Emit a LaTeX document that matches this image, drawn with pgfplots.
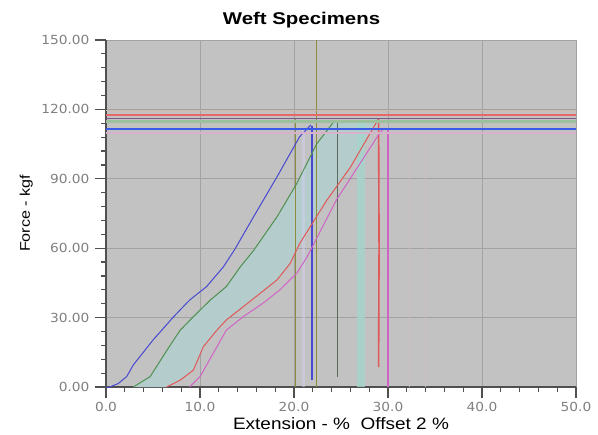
\documentclass[border=0pt]{standalone}
\usepackage{fontspec}
\setmainfont{Liberation Sans}
\newfontfamily\titlefont[FakeStretch=1.2]{Liberation Sans}
\newfontfamily\labfont[FakeStretch=1.15]{Liberation Sans}
\newfontfamily\tickfont[FakeStretch=1.1]{DejaVu Sans}
\usepackage{pgfplots}
\pgfplotsset{compat=1.18}
\definecolor{bggray}{HTML}{C2C2C2}
\definecolor{gridgray}{HTML}{A2A2A2}
\definecolor{axisgray}{HTML}{505050}
\definecolor{tickgray}{HTML}{808080}
\definecolor{cblue}{HTML}{4848D0}
\definecolor{cgreen}{HTML}{4E9050}
\definecolor{cred}{HTML}{E05858}
\definecolor{cpink}{HTML}{D064C4}
\definecolor{colive}{HTML}{8C8C3C}
\definecolor{cdark}{HTML}{5A6A5A}
\definecolor{ccyanfill}{HTML}{B4CCCC}
\definecolor{ccyanband}{HTML}{A6D4CC}
\definecolor{hgreen}{HTML}{9CC09C}
\definecolor{hred}{HTML}{E86868}
\definecolor{hpurple}{HTML}{7A5A8A}
\definecolor{hblue}{HTML}{3A5AE8}
\definecolor{horange}{HTML}{D2B8A8}
\definecolor{hpink}{HTML}{D8B2CC}
\definecolor{vpink}{HTML}{CDB8C6}
\begin{document}
\begin{tikzpicture}
\begin{axis}[name=ax, scale only axis, width=470pt, height=347pt,
  xmin=0, xmax=50, ymin=0, ymax=150,
  axis background/.style={fill=bggray},
  axis x line*=bottom, axis y line*=left,
  axis line style={draw=axisgray, line width=1.5pt, -},
  xtick={0,10,...,50}, ytick={0,30,...,150},
  xticklabels={0.0,10.0,20.0,30.0,40.0,50.0},
  yticklabels={0.00,30.00,60.00,90.00,120.00,150.00},
  minor x tick num=4, minor y tick num=4,
  tick align=outside, major tick length=11pt, minor tick length=5pt,
  every tick/.style={draw=axisgray, line width=1.2pt},
  grid=major, major grid style={draw=gridgray, line width=1pt},
  ticklabel style={font=\tickfont\fontsize{12.5}{12.5}\selectfont, text=tickgray},
  xticklabel style={yshift=-1pt},
  yticklabel style={xshift=-2pt},
  title={Weft Specimens},
  title style={at={(0.416,1)}, anchor=base, yshift=9pt, font=\titlefont\bfseries\fontsize{17}{17}\selectfont},
  xlabel={Extension - \%\ \ Offset 2 \%},
  xlabel style={at={(0.5,0)}, anchor=base, yshift=-42pt, font=\labfont\fontsize{16.5}{16.5}\selectfont},
  clip=true]

% cyan shaded region between green and red curves
\addplot[fill=ccyanfill, draw=none, forget plot] coordinates {(2.9,0) (4.7,4.5) (6.5,16) (7.9,24.6) (9.3,30.4) (11.1,37.6) (12.8,43.4) (14.3,52) (15.7,59) (18.2,73.6) (20.3,88) (22.4,105) (24.3,115)
 (29,116) (26,95) (23.5,80.8) (20.6,62) (19.6,53.5) (18.2,46.3) (16.4,40.5) (14.6,34.7) (12.8,29) (11.8,24.6) (10.35,17.4) (9.3,7.3) (7.9,3) (6.45,0)} -- cycle;

% vertical lines and bands
\addplot[ccyanband, line width=8pt, opacity=0.8] coordinates {(27.1,0) (27.1,115)};
\addplot[colive, line width=1pt] coordinates {(20.2,0) (20.2,116)};
\addplot[white!75!cblue, line width=3pt, opacity=0.5] coordinates {(21.0,0) (21.0,112)};
\addplot[colive, line width=1pt] coordinates {(22.4,0) (22.4,150)};
\addplot[vpink, line width=1.5pt] coordinates {(32.3,0) (32.3,110)};
\addplot[vpink!60!bggray, line width=1pt] coordinates {(34.0,0) (34.0,108)};

% curves
\addplot[cblue, line width=1pt] coordinates {(0,0) (0.4,0) (1.3,1.5) (2.2,4.5) (2.9,9.5) (5.0,20.3) (7.2,30.4) (8.9,37.6) (10.7,43.4) (12.5,52) (13.7,59.5) (15.7,73.6) (18.2,90.9) (20.6,108.2) (21.8,113.3)};
\addplot[cblue, line width=2.2pt] coordinates {(21.95,113) (21.95,3)};
\addplot[cgreen, line width=1pt] coordinates {(2.9,0) (4.7,4.5) (6.5,16) (7.9,24.6) (9.3,30.4) (11.1,37.6) (12.8,43.4) (14.3,52) (15.7,59) (18.2,73.6) (20.3,88) (22.4,105) (24.3,115)};
\addplot[cdark, line width=1pt] coordinates {(24.3,115) (24.6,115) (24.6,4.3)};
\addplot[cred, line width=1pt] coordinates {(6.45,0) (7.9,3) (9.3,7.3) (10.35,17.4) (11.8,24.6) (12.8,29) (14.6,34.7) (16.4,40.5) (18.2,46.3) (19.6,53.5) (20.6,62) (23.5,80.8) (26,95) (29,116)};
\addplot[cred, line width=1.6pt] coordinates {(29,116) (29.05,60) (29.0,8.6)};
\addplot[cpink, line width=1pt] coordinates {(8.9,0) (10,4.5) (11.4,14.5) (12.8,24.6) (14.6,30.4) (16.7,36.2) (18.5,42) (20.3,49.2) (21.4,56.3) (24.5,80.8) (29.1,109.7) (29.6,112)};
\addplot[cpink, line width=2pt] coordinates {(30.0,112) (30.0,0)};

% horizontal lines
\addplot[horange, line width=1pt] coordinates {(0,119.6) (50,119.6)};
\addplot[hpink, line width=1.5pt] coordinates {(0,109.8) (50,109.8)};
\addplot[hgreen, line width=2.5pt] coordinates {(0,114.7) (50,114.7)};
\addplot[hred, line width=2pt] coordinates {(0,117.6) (50,117.6)};
\addplot[hpurple, line width=1.5pt] coordinates {(0,116.1) (50,116.1)};
\addplot[hblue, line width=2pt] coordinates {(0,111.5) (50,111.5)};
\end{axis}
\node[rotate=90, anchor=base, font=\labfont\fontsize{14}{14}\selectfont] at ([xshift=-76pt]ax.west) {Force - kgf};
\pgfresetboundingbox
\path[use as bounding box] ([xshift=-106pt,yshift=-47pt]ax.south west) rectangle ([xshift=22pt,yshift=40pt]ax.north east);
\end{tikzpicture}
\end{document}
